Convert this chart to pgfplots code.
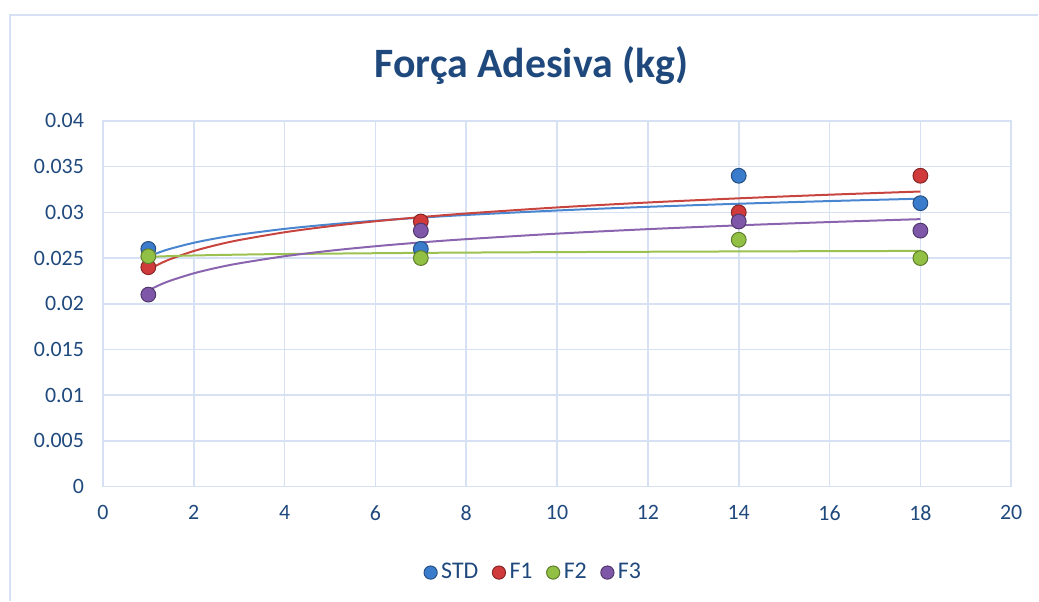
\documentclass[border=0pt]{standalone}
\usepackage{pgfplots}
\pgfplotsset{compat=1.18}
\usepackage{fontspec}
\setmainfont{Carlito}
\definecolor{txt}{HTML}{1F497D}
\definecolor{gridc}{HTML}{D6E2F3}
\definecolor{cstd}{HTML}{3A7BCB}
\definecolor{cf1}{HTML}{D03A3A}
\definecolor{cf2}{HTML}{92C045}
\definecolor{cf3}{HTML}{7E57A8}
\definecolor{lstd}{HTML}{4A86CF}
\definecolor{lf1}{HTML}{C8453F}
\definecolor{lf2}{HTML}{9BC250}
\definecolor{lf3}{HTML}{8A64AE}
\begin{document}
\begin{tikzpicture}
\begin{axis}[
  scale only axis,
  width=454.5bp, height=183bp,
  xmin=0, xmax=20, ymin=0, ymax=0.04,
  scaled y ticks=false,
  xtick={0,2,...,20},
  ytick={0,0.005,0.01,0.015,0.02,0.025,0.03,0.035,0.04},
  yticklabels={0,0.005,0.01,0.015,0.02,0.025,0.03,0.035,0.04},
  xticklabels={0,2,4,6,8,10,12,14,16,18,20},
  grid=major,
  major grid style={gridc, line width=0.8bp},
  axis line style={gridc, line width=0.8bp},
  major tick length=0pt,
  tick label style={font=\fontsize{11}{13}\selectfont, text=txt},
  xticklabel style={yshift=-6bp},
  yticklabel style={xshift=-6bp},
  clip=false,
  legend style={at={(0.4752,-0.235)}, anchor=center, draw=none, fill=none,
    font=\fontsize{12}{14}\selectfont, text=txt, legend columns=4,
    /tikz/every even column/.append style={column sep=5bp}},
  legend cell align=left,
  legend image code/.code={\draw[#1, mark size=3.3bp] plot coordinates {(0.12cm,0cm)};},
]
% trendlines (logarithmic fits)
\addplot[lstd, line width=1bp, forget plot, smooth] coordinates {
(1,0.025149) (1.25,0.025639) (1.5,0.026039) (2,0.026670) (2.5,0.027160) (3,0.027560) (4,0.028191) (5,0.028681) (6,0.029081) (7,0.029419) (8,0.029712) (10,0.030202) (12,0.030602) (14,0.030940) (16,0.031233) (18,0.031492)};
\addplot[lf1, line width=1bp, forget plot, smooth] coordinates {
(1,0.023710) (1.25,0.024371) (1.5,0.024912) (2,0.025765) (2.5,0.026426) (3,0.026967) (4,0.027819) (5,0.028481) (6,0.029021) (7,0.029478) (8,0.029874) (10,0.030535) (12,0.031076) (14,0.031533) (16,0.031929) (18,0.032278)};
\addplot[lf2, line width=1bp, forget plot, smooth] coordinates {
(1,0.025125) (1.5,0.025217) (2,0.025282) (3,0.025374) (4,0.025440) (7,0.025567) (10,0.025648) (14,0.025724) (18,0.025781)};
\addplot[lf3, line width=1bp, forget plot, smooth] coordinates {
(1,0.021459) (1.25,0.022061) (1.5,0.022553) (2,0.023329) (2.5,0.023931) (3,0.024422) (4,0.025199) (5,0.025800) (6,0.026292) (7,0.026708) (8,0.027068) (10,0.027670) (12,0.028162) (14,0.028578) (16,0.028938) (18,0.029256)};
% data points
\addplot[only marks, mark=*, mark size=3.7bp, mark options={fill=cstd, draw=cstd!65!black, line width=0.5bp}] coordinates {(1,0.026) (7,0.026) (14,0.034) (18,0.031)};
\addlegendentry{STD}
\addplot[only marks, mark=*, mark size=3.7bp, mark options={fill=cf1, draw=cf1!65!black, line width=0.5bp}] coordinates {(1,0.024) (7,0.029) (14,0.030) (18,0.034)};
\addlegendentry{F1}
\addplot[only marks, mark=*, mark size=3.7bp, mark options={fill=cf2, draw=cf2!65!black, line width=0.5bp}] coordinates {(1,0.0252) (7,0.025) (14,0.027) (18,0.025)};
\addlegendentry{F2}
\addplot[only marks, mark=*, mark size=3.7bp, mark options={fill=cf3, draw=cf3!65!black, line width=0.5bp}] coordinates {(1,0.021) (7,0.028) (14,0.029) (18,0.028)};
\addlegendentry{F3}
% title
\node[anchor=base, font=\fontsize{21}{25}\selectfont\bfseries, text=txt] at (rel axis cs:0.472,1.1175) {Força Adesiva (kg)};
% chart frame and bounding box
\draw[gridc, line width=0.8bp] (rel axis cs:-0.10231,-0.31148) -- (rel axis cs:-0.10231,1.28962) -- (rel axis cs:1.0297,1.28962);
\path (rel axis cs:-0.11331,-0.31148) rectangle (rel axis cs:1.0297,1.3306);
\end{axis}
\end{tikzpicture}
\end{document}
